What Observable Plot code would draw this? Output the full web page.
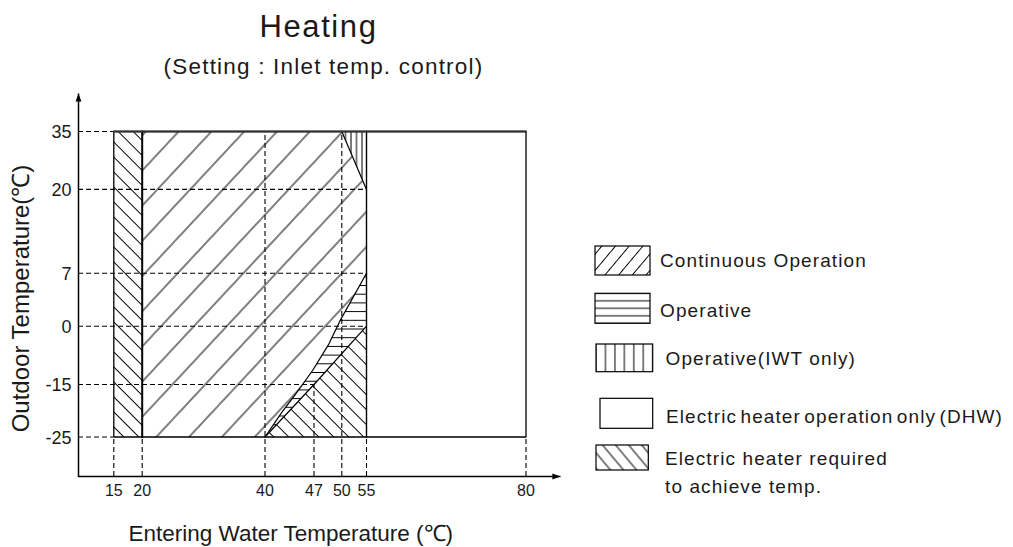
<!DOCTYPE html>
<html>
<head>
<meta charset="utf-8">
<script src="https://cdn.jsdelivr.net/npm/d3@7"></script>
<script src="https://cdn.jsdelivr.net/npm/@observablehq/plot@0.6"></script>
<style>
  html, body { margin: 0; padding: 0; background: #fff; }
  #wrap { position: relative; width: 1013px; height: 547px; overflow: hidden;
          font-family: "Liberation Sans", Arial, sans-serif; color: #1a1a1a; }
  #chart { position: absolute; left: 0; top: 0; }
  .ttl { position: absolute; left: 0; white-space: nowrap; text-align: center; line-height: 1; }
  #title { top: 11px; width: 637px; font-size: 31px; letter-spacing: 1.6px; }
  #subtitle { top: 56px; width: 647px; font-size: 22.5px; letter-spacing: 1.2px; }
  #legend { position: absolute; left: 0; top: 0; }
</style>
</head>
<body>
<div id="wrap">
  <div id="chart"></div>
  <div class="ttl" id="title"></div>
  <div class="ttl" id="subtitle"></div>
</div>
<script>
// ---------------- data ----------------
const titleText = "Heating";
const subtitleText = "(Setting : Inlet temp. control)";
const xLabel = "Entering Water Temperature (℃)";
const yLabel = "Outdoor Temperature(℃)";

const xTicks = [15, 20, 40, 47, 50, 55, 80];
const yTicks = [-25, -15, 0, 7, 20, 35];

// where each dashed guide stops
const vGuideTop = [-25, -25, 35, -15, 35, -25, -25];   // per xTicks
const hGuideEnd = [15, 47, 55, 55, 55, 15];            // per yTicks

// operating envelope outline and inner borders
const envelope = [[15, -25], [80, -25], [80, 35], [15, 35], [15, -25]];
const heaterStrip = [[15, -25], [20, -25], [20, 35], [15, 35]];
const divider20 = [[20, -25], [20, 35]];
const divider55 = [[55, -25], [55, 35]];
const upperCurve = [[40, -25], [42.4, -20.3], [44.4, -16.8], [46.8, -11.4], [48.6, -4.6], [49.8, 0.7], [55, 7]];
const lowerCurve = [[40, -25], [47, -15], [55, 0]];
const continuousTop = [[55, 20], [50, 35], [20, 35], [20, -25]];
const iwtRegion = [[50, 35], [55, 35], [55, 20]];
const iwtEdge = [[50, 35], [55, 20]];
const heaterCorner = [[55, -25]];

const legendLabels = ["Continuous Operation", "Operative", "Operative(IWT only)",
  "Electric heater operation only (DHW)", "Electric heater required\nto achieve temp."];
const legendPatterns = ["lg-slash", "lg-horiz", "lg-vert", null, "lg-back"];

// ---------------- layout ----------------
const W = 1013, H = 547;
const frameL = 78, frameR = 560, frameT = 93, frameB = 476;
const xRange = [113.3, 141.7, 264.5, 313.5, 341.3, 366, 525.5];
const yRange = [436.5, 384, 325.7, 272.7, 188.9, 131];
const legendBoxes = [[595, 246, 55, 29], [595, 293.3, 55, 30], [596, 344, 56.7, 27.7], [600, 398.3, 52.7, 30], [596, 445, 52.3, 25]];
const legendTextX = [660, 660, 665.5, 666, 665];
const legendBaseline = [266.8, 316.8, 364.8, 422.7, 465];
const legendLineGap = 28;

document.getElementById("title").textContent = titleText;
document.getElementById("subtitle").textContent = subtitleText;

// data values sitting on the axis lines (same piecewise mapping as the Plot scales)
const xMap = d3.scaleLinear().domain(xTicks).range(xRange);
const yMap = d3.scaleLinear().domain(yTicks).range(yRange);
const xAtAxis = xMap.invert(frameL);
const yAtAxis = yMap.invert(frameB);

const pts = (arr) => arr.map(([x, y]) => ({x, y}));
const fw = frameR - frameL, fh = frameB - frameT;

const arrowUp = {draw(ctx, size) {
  const r = Math.sqrt(size / Math.PI);
  ctx.moveTo(0, 0); ctx.lineTo(-0.65 * r, 1.8 * r); ctx.lineTo(0.65 * r, 1.8 * r); ctx.closePath();
}};
const arrowRight = {draw(ctx, size) {
  const r = Math.sqrt(size / Math.PI);
  ctx.moveTo(0, 0); ctx.lineTo(-1.8 * r, -0.65 * r); ctx.lineTo(-1.8 * r, 0.65 * r); ctx.closePath();
}};

const fillPoly = (arr, pat) => Plot.line(pts(arr), {x: "x", y: "y", fill: `url(#${pat})`, stroke: "none"});
const border = (arr, w = 1.3, c = "#000") => Plot.line(pts(arr), {x: "x", y: "y", stroke: c, strokeWidth: w, fill: "none"});
const dash = {stroke: "#000", strokeWidth: 1.1, strokeDasharray: "5,3"};

const svg = Plot.plot({
  width: W,
  height: H,
  marginLeft: frameL,
  marginRight: W - frameR,
  marginTop: frameT,
  marginBottom: H - frameB,
  style: {fontFamily: '"Liberation Sans", Arial, sans-serif', fontSize: "16px", color: "#1a1a1a", background: "white"},
  x: {type: "linear", domain: xTicks, range: xRange, axis: null},
  y: {type: "linear", domain: yTicks, range: yRange, axis: null},
  marks: [
    // hatched regions
    fillPoly(heaterStrip, "p-back"),
    fillPoly([...upperCurve, ...continuousTop], "p-slash"),
    fillPoly([...upperCurve, ...lowerCurve.slice().reverse()], "p-horiz"),
    fillPoly([...lowerCurve, ...heaterCorner], "p-back"),
    fillPoly(iwtRegion, "p-vert"),
    // dashed guides from the axes
    Plot.ruleY(yTicks, {y: (d) => d, x1: () => xAtAxis, x2: (d, i) => hGuideEnd[i], ...dash}),
    Plot.ruleX(xTicks, {x: (d) => d, y1: () => yAtAxis, y2: (d, i) => vGuideTop[i], ...dash}),
    // borders
    border(envelope, 1.3),
    border(divider20, 2),
    border(divider55, 1.4),
    border(upperCurve, 1.2),
    border(lowerCurve, 1.2),
    border(iwtEdge, 1.2),
    border([envelope[3], envelope[2]], 2, "#333"),
    // axes (left + bottom side of the frame) with arrow heads
    Plot.frame({stroke: "#000", strokeWidth: 1.5, strokeDasharray: `0,${fw + fh},${fw + fh}`}),
    Plot.dot([0], {frameAnchor: "top-left", symbol: arrowUp, r: 4.5, fill: "#000", stroke: "none"}),
    Plot.dot([0], {frameAnchor: "bottom-right", symbol: arrowRight, r: 4.5, fill: "#000", stroke: "none"}),
    // tick labels
    Plot.text(xTicks, {x: (d) => d, text: (d) => String(d), frameAnchor: "bottom", textAnchor: "middle",
      lineAnchor: "top", dy: 8, fontSize: 16, fill: "#1a1a1a"}),
    Plot.text(yTicks, {y: (d) => d, text: (d) => String(d), frameAnchor: "left", textAnchor: "end",
      lineAnchor: "middle", dx: -7, dy: 1, fontSize: 18, fill: "#1a1a1a"}),
    // axis titles
    Plot.text([xLabel], {frameAnchor: "bottom", text: (d) => d, textAnchor: "middle", lineAnchor: "bottom",
      dx: -28.7, dy: 64.7, fontSize: 22.5, fill: "#1a1a1a"}),
    Plot.text([yLabel], {frameAnchor: "left", text: (d) => d, rotate: -90, textAnchor: "middle", lineAnchor: "middle",
      dx: -57.5, dy: 13.5, fontSize: 24, fill: "#1a1a1a"})
  ]
});

// hatch patterns
function addHatch(defs, id, {w, angle = 0, off = 0, horizontal = false, sw = 1}) {
  const p = defs.append("pattern").attr("id", id).attr("patternUnits", "userSpaceOnUse")
    .attr("width", w).attr("height", w);
  if (angle) p.attr("patternTransform", `rotate(${angle})`);
  if (horizontal) {
    p.attr("y", off);
    p.append("line").attr("x1", 0).attr("x2", w).attr("y1", w / 2).attr("y2", w / 2)
      .attr("stroke", "#000").attr("stroke-width", sw);
  } else {
    p.attr("x", off);
    p.append("line").attr("x1", w / 2).attr("x2", w / 2).attr("y1", 0).attr("y2", w)
      .attr("stroke", "#000").attr("stroke-width", sw);
  }
}
const defs = d3.select(svg).insert("defs", ":first-child");
addHatch(defs, "p-slash", {w: 24, angle: 43, off: 207.6});
addHatch(defs, "p-back", {w: 10.6, angle: -45, off: -25.3});
addHatch(defs, "p-horiz", {w: 8.7, off: 2.25, horizontal: true});
addHatch(defs, "p-vert", {w: 5.5, off: 347.75});

document.getElementById("chart").appendChild(svg);

// legend
const leg = d3.select("#wrap").append("svg").attr("id", "legend").attr("width", W).attr("height", H);
const ldefs = leg.append("defs");
addHatch(ldefs, "lg-slash", {w: 10.5, angle: 40, off: 0});
addHatch(ldefs, "lg-horiz", {w: 7.5, off: -3.75, horizontal: true});
addHatch(ldefs, "lg-vert", {w: 9.45, off: -4.725});
addHatch(ldefs, "lg-back", {w: 10, angle: -40, off: 0});

legendLabels.forEach((label, i) => {
  const [bx, by, bw, bh] = legendBoxes[i];
  const g = leg.append("g").attr("transform", `translate(${bx},${by})`);
  g.append("rect").attr("width", bw).attr("height", bh)
    .attr("fill", legendPatterns[i] ? `url(#${legendPatterns[i]})` : "white")
    .attr("stroke", "#000").attr("stroke-width", 1.2);
  const t = leg.append("text").attr("x", legendTextX[i]).attr("y", legendBaseline[i])
    .attr("font-family", '"Liberation Sans", Arial, sans-serif').attr("font-size", 19)
    .attr("fill", "#1a1a1a").style("letter-spacing", "1.1px");
  if (i === 3) t.style("word-spacing", "-3px");
  label.split("\n").forEach((line, j) => {
    t.append("tspan").attr("x", legendTextX[i]).attr("y", legendBaseline[i] + j * legendLineGap).text(line);
  });
});
</script>
</body>
</html>
